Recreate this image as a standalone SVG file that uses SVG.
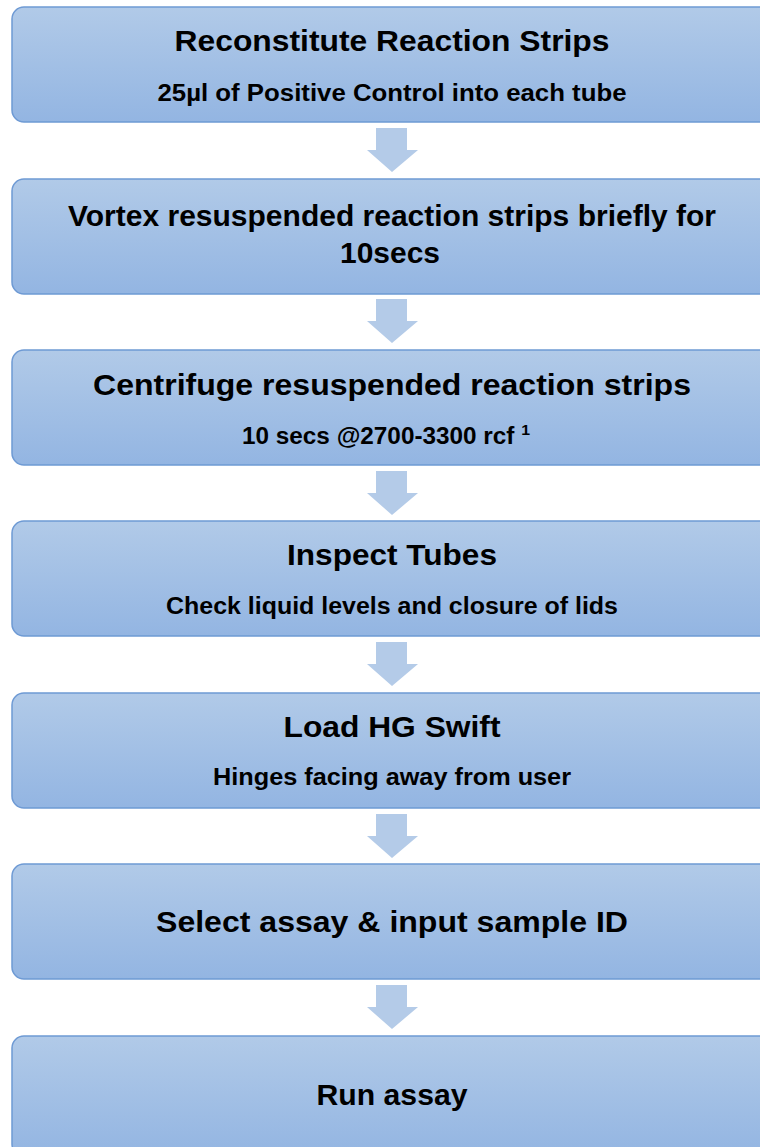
<svg xmlns="http://www.w3.org/2000/svg" width="760" height="1147" viewBox="0 0 760 1147">
  <defs>
    <linearGradient id="boxFill" x1="0" y1="0" x2="0" y2="1">
      <stop offset="0" stop-color="#b1cae8"/>
      <stop offset="1" stop-color="#93b5e2"/>
    </linearGradient>
    <!-- block arrow pointing down, tip at (0,0) -->
    <path id="downArrow" d="M-16,-44 H15 V-22 H26 L0,0 L-25,-22 H-16 Z"/>
  </defs>
  <style>
    .box { fill: url(#boxFill); stroke: #6e9ad4; stroke-width: 1.5; }
    .title { font-family: "Liberation Sans", Arial, sans-serif; font-weight: bold; font-size: 30px; fill: #000; text-anchor: middle; }
    .sub { font-family: "Liberation Sans", Arial, sans-serif; font-weight: bold; font-size: 23px; fill: #000; text-anchor: middle; }
    .arrow { fill: #b4cbe8; }
  </style>

  <rect width="760" height="1147" fill="#ffffff"/>

  <g id="connectors">
    <use href="#downArrow" class="arrow" x="392" y="172"/>
    <use href="#downArrow" class="arrow" x="392" y="343"/>
    <use href="#downArrow" class="arrow" x="392" y="515"/>
    <use href="#downArrow" class="arrow" x="392" y="686"/>
    <use href="#downArrow" class="arrow" x="392" y="858"/>
    <use href="#downArrow" class="arrow" x="392" y="1029"/>
  </g>

  <g id="step1">
    <rect class="box" x="12" y="7" width="760" height="115" rx="12"/>
    <text class="title" x="392" y="51" textLength="435" lengthAdjust="spacingAndGlyphs">Reconstitute Reaction Strips</text>
    <text class="sub" x="392" y="101" textLength="469" lengthAdjust="spacingAndGlyphs">25µl of Positive Control into each tube</text>
  </g>

  <g id="step2">
    <rect class="box" x="12" y="179" width="760" height="115" rx="12"/>
    <text class="title" x="392" y="226" textLength="648" lengthAdjust="spacingAndGlyphs">Vortex resuspended reaction strips briefly for</text>
    <text class="title" x="390" y="263" textLength="100" lengthAdjust="spacingAndGlyphs">10secs</text>
  </g>

  <g id="step3">
    <rect class="box" x="12" y="350" width="760" height="115" rx="12"/>
    <text class="title" x="392" y="395" textLength="598" lengthAdjust="spacingAndGlyphs">Centrifuge resuspended reaction strips</text>
    <text class="sub" x="386" y="444" textLength="288" lengthAdjust="spacingAndGlyphs">10 secs @2700-3300 rcf <tspan font-size="15" dy="-9">1</tspan></text>
  </g>

  <g id="step4">
    <rect class="box" x="12" y="521" width="760" height="115" rx="12"/>
    <text class="title" x="392" y="565" textLength="210" lengthAdjust="spacingAndGlyphs">Inspect Tubes</text>
    <text class="sub" x="392" y="614" textLength="452" lengthAdjust="spacingAndGlyphs">Check liquid levels and closure of lids</text>
  </g>

  <g id="step5">
    <rect class="box" x="12" y="693" width="760" height="115" rx="12"/>
    <text class="title" x="392" y="737" textLength="217" lengthAdjust="spacingAndGlyphs">Load HG Swift</text>
    <text class="sub" x="392" y="785" textLength="358" lengthAdjust="spacingAndGlyphs">Hinges facing away from user</text>
  </g>

  <g id="step6">
    <rect class="box" x="12" y="864" width="760" height="115" rx="12"/>
    <text class="title" x="392" y="932" textLength="472" lengthAdjust="spacingAndGlyphs">Select assay &amp; input sample ID</text>
  </g>

  <g id="step7">
    <rect class="box" x="12" y="1036" width="760" height="120" rx="12"/>
    <text class="title" x="392" y="1105" textLength="151" lengthAdjust="spacingAndGlyphs">Run assay</text>
  </g>
</svg>
